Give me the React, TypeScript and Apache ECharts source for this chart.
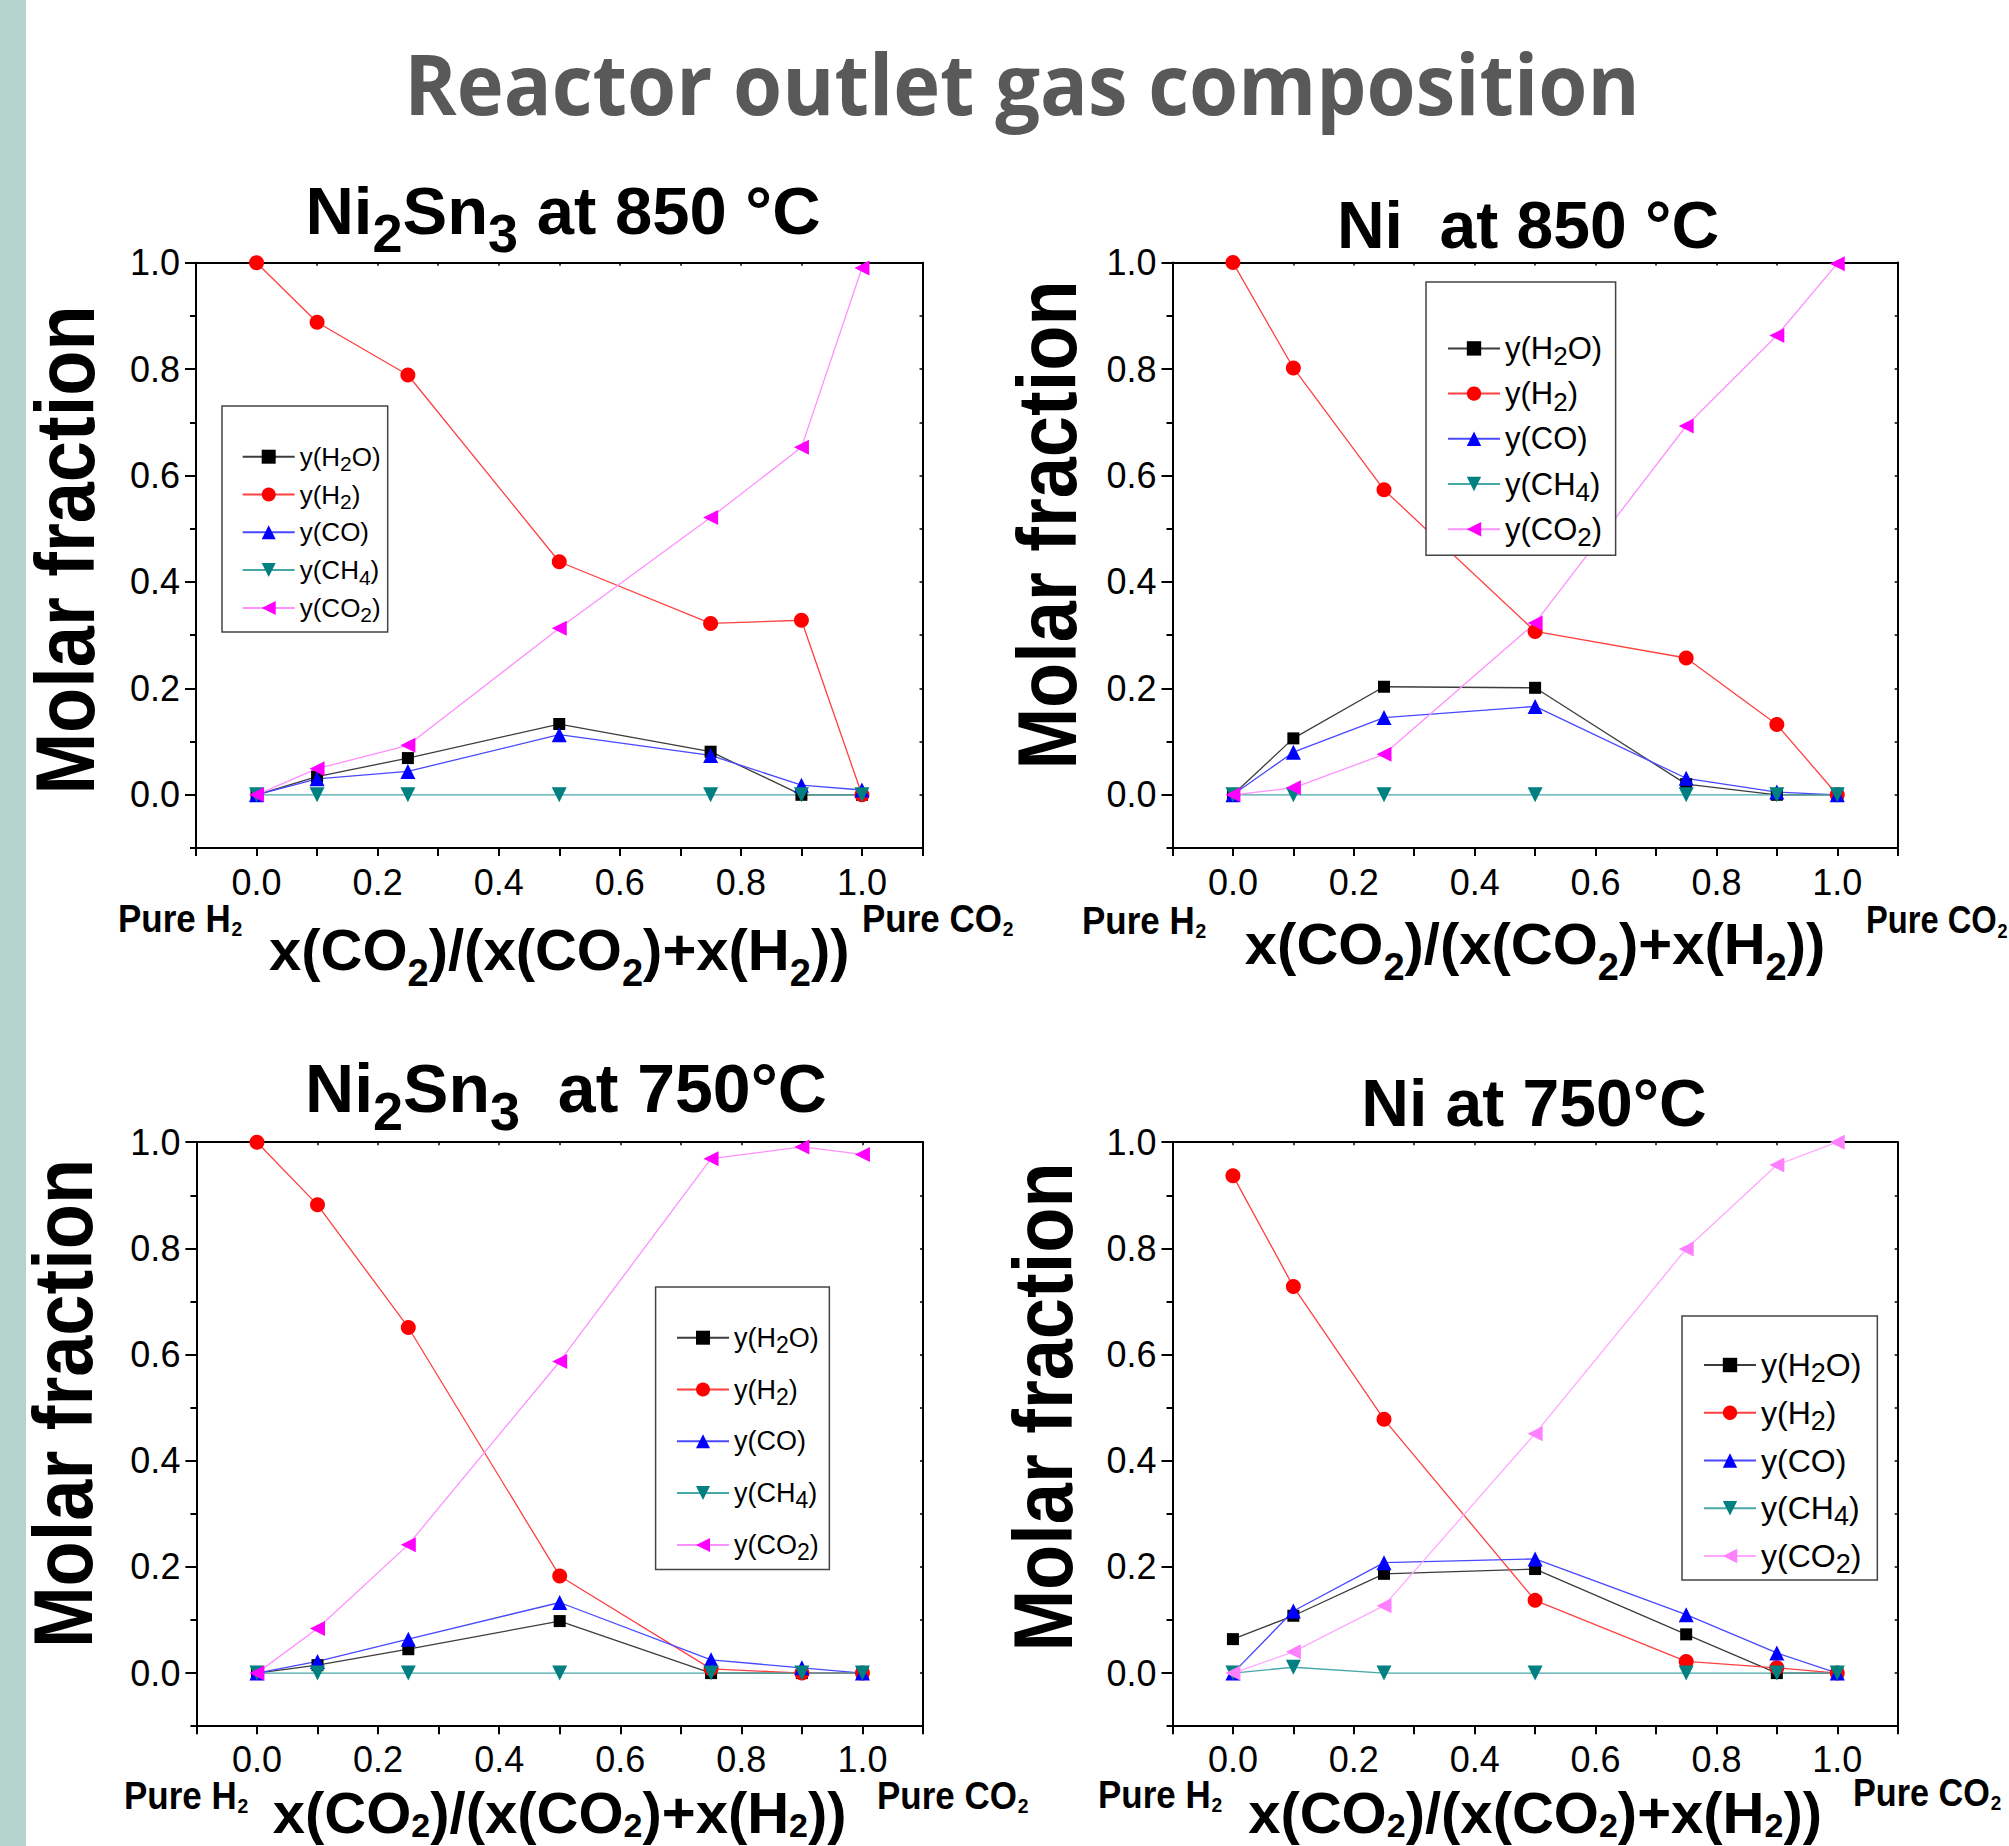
import React, { useEffect, useRef } from 'react';
import * as echarts from 'echarts';

// ---------------- DATA ----------------
const X_RATIO = [0, 0.1, 0.25, 0.5, 0.75, 0.9, 1.0];
const X_TICK_LABELS = [0, 0.2, 0.4, 0.6, 0.8, 1.0];
const Y_TICK_LABELS = [0, 0.2, 0.4, 0.6, 0.8, 1.0];

// Ni2Sn3 at 850 °C
const A_H2O = [0, 0.034, 0.069, 0.133, 0.081, 0.0, 0.0];
const A_H2 = [1.0, 0.888, 0.789, 0.438, 0.322, 0.328, 0.0];
const A_CO = [0, 0.03, 0.044, 0.113, 0.074, 0.018, 0.009];
const A_CH4 = [0, 0, 0, 0, 0, 0, 0];
const A_CO2 = [0, 0.049, 0.093, 0.313, 0.521, 0.653, 0.99];

// Ni at 850 °C
const B_H2O = [0, 0.106, 0.203, 0.201, 0.02, 0.0, 0.0];
const B_H2 = [1.0, 0.802, 0.573, 0.307, 0.257, 0.132, 0.0];
const B_CO = [0, 0.08, 0.145, 0.166, 0.031, 0.005, 0.0];
const B_CH4 = [0, 0, 0, 0, 0, 0, 0];
const B_CO2 = [0, 0.013, 0.076, 0.323, 0.693, 0.863, 0.998];

// Ni2Sn3 at 750 °C
const C_H2O = [0, 0.015, 0.045, 0.098, 0, 0, 0];
const C_H2 = [1.0, 0.882, 0.651, 0.183, 0.008, 0, 0];
const C_CO = [0, 0.022, 0.064, 0.133, 0.025, 0.01, 0];
const C_CH4 = [0, 0, 0, 0, 0, 0, 0];
const C_CO2 = [0, 0.084, 0.242, 0.587, 0.969, 0.991, 0.977];

// Ni at 750 °C
const D_H2O = [0.064, 0.108, 0.187, 0.196, 0.073, 0, 0];
const D_H2 = [0.937, 0.728, 0.478, 0.137, 0.022, 0.01, 0];
const D_CO = [0, 0.117, 0.208, 0.215, 0.11, 0.038, 0];
const D_CH4 = [0, 0.011, 0, 0, 0, 0, 0];
const D_CO2 = [0, 0.04, 0.127, 0.451, 0.799, 0.957, 1.0];

const PANEL_DATA: Record<string, Record<string, number[]>> = {
  A: { H2O: A_H2O, H2: A_H2, CO: A_CO, CH4: A_CH4, CO2: A_CO2 },
  B: { H2O: B_H2O, H2: B_H2, CO: B_CO, CH4: B_CH4, CO2: B_CO2 },
  C: { H2O: C_H2O, H2: C_H2, CO: C_CO, CH4: C_CH4, CO2: C_CO2 },
  D: { H2O: D_H2O, H2: D_H2, CO: D_CO, CH4: D_CH4, CO2: D_CO2 },
};

// ---------------- STYLES / LAYOUT ----------------
const FONT = "'Liberation Sans', Arial, Helvetica, sans-serif";
const TITLE_FONT = "'Open Sans', 'Noto Sans', sans-serif";

const SPECIES = [
  { key: 'H2O', label: 'y(H2O)', rich: 'y(H{s|2}O)', symbol: 'rect', size: 12, marker: '#000000', line: '#3c3c3c' },
  { key: 'H2', label: 'y(H2)', rich: 'y(H{s|2})', symbol: 'circle', size: 15, marker: '#ff0000', line: '#ff4040' },
  { key: 'CO', label: 'y(CO)', rich: 'y(CO)', symbol: 'triangle', size: 15, marker: '#0000ff', line: '#4848ff' },
  { key: 'CH4', label: 'y(CH4)', rich: 'y(CH{s|4})', symbol: 'path://M0,0L10,0L5,9Z', size: 15, marker: '#008080', line: '#48a8a8' },
  { key: 'CO2', label: 'y(CO2)', rich: 'y(CO{s|2})', symbol: 'path://M9,0L9,10L0,5Z', size: 15, marker: '#ff00ff', line: '#ff90ff' },
];
const RICH_BY_LABEL: Record<string, string> = {};
SPECIES.forEach((s) => (RICH_BY_LABEL[s.label] = s.rich));

// x-axis name: lh = line height, sfs = subscript size, spad = subscript drop padding
const PANELS = [
  {
    id: 'A', title: 'Ni{s|2}Sn{s|3} at 850 °C', titleSize: 67, titleX: 563, titleY: 210,
    grid: { left: 196, top: 262.7, width: 726.5, height: 585.3 },
    xName: { gap: 58.5, lh: 85, sfs: 38, spad: 47 }, xLabelMargin: 16, molar: [65.5, 550],
    pureH: [118, 919], pureC: [862, 919], pureCScale: 0.92,
    legend: { left: 222, top: 406, pad: [33.2, 7, 6.5, 19.7], gap: 2.8, fs: 26, lh: 35, sfs: 21, spad: 14, ih: 17.5 },
    override: {} as Record<string, { marker: string; line: string }>,
  },
  {
    id: 'B', title: 'Ni  at 850 °C', titleSize: 66, titleX: 1528, titleY: 224.5,
    grid: { left: 1172.5, top: 262.6, width: 725.2, height: 585.4 },
    xName: { gap: 45.5, lh: 85, sfs: 38, spad: 47 }, xLabelMargin: 16, molar: [1048, 525],
    pureH: [1082, 921], pureC: [1866, 920], pureCScale: 0.86,
    legend: { left: 1426, top: 282, pad: [45.4, 13.5, 5, 21], gap: 3.2, fs: 31, lh: 42, sfs: 26, spad: 16, ih: 18 },
    override: {} as Record<string, { marker: string; line: string }>,
  },
  {
    id: 'C', title: 'Ni{s|2}Sn{s|3}  at 750°C', titleSize: 68, titleX: 566, titleY: 1088,
    grid: { left: 196.4, top: 1142.2, width: 726.6, height: 584 },
    xName: { gap: 57.5, lh: 58, sfs: 34, spad: 24 }, xLabelMargin: 15, molar: [64, 1403.5],
    pureH: [124, 1796], pureC: [877, 1796], pureCScale: 0.92,
    legend: { left: 655.6, top: 1287, pad: [32.2, 10.6, 6, 20.4], gap: 14.8, fs: 27, lh: 37, sfs: 23, spad: 14, ih: 17.5 },
    override: {} as Record<string, { marker: string; line: string }>,
  },
  {
    id: 'D', title: 'Ni at 750°C', titleSize: 66, titleX: 1534, titleY: 1103,
    grid: { left: 1172.5, top: 1142.2, width: 725.2, height: 584 },
    xName: { gap: 57.5, lh: 58, sfs: 34, spad: 24 }, xLabelMargin: 15, molar: [1043.5, 1407],
    pureH: [1098, 1795], pureC: [1853, 1793], pureCScale: 0.9,
    legend: { left: 1682, top: 1316, pad: [27.5, 16, 2.5, 21], gap: 4.75, fs: 32, lh: 43, sfs: 27, spad: 16, ih: 18 },
    override: { CO2: { marker: '#ff80ff', line: '#ffa8ff' } } as Record<string, { marker: string; line: string }>,
  },
];

const X_AXIS_NAME = 'x(CO{s|2})/(x(CO{s|2})+x(H{s|2}))';

const seriesName = (label: string, pid: string) => `${label} · ${pid}`;
const fmt1 = (v: number) => (Math.round(v * 10) / 10).toFixed(1);

function buildOption() {
  const grid: any[] = [];
  const xAxis: any[] = [];
  const yAxis: any[] = [];
  const series: any[] = [];
  const legend: any[] = [];
  const graphic: any[] = [];

  const axisLine = { show: true, onZero: false, lineStyle: { color: '#000', width: 2 } };

  PANELS.forEach((p, g) => {
    grid.push({ ...p.grid, containLabel: false, outerBoundsMode: 'none', show: false });

    // bottom x axis (labelled)
    xAxis.push({
      type: 'value', gridIndex: g, position: 'bottom', min: -0.1, max: 1.1, interval: 0.1,
      axisLine,
      axisTick: { show: true, inside: false, length: 8, lineStyle: { color: '#000', width: 2 } },
      axisLabel: {
        show: true, customValues: X_TICK_LABELS, formatter: (v: number) => fmt1(v),
        margin: p.xLabelMargin, fontFamily: FONT, fontSize: 36, lineHeight: 36, color: '#000',
      },
      splitLine: { show: false },
      name: X_AXIS_NAME, nameLocation: 'middle', nameGap: p.xName.gap,
      nameTextStyle: {
        fontFamily: FONT, fontWeight: 'bold', fontSize: 58, lineHeight: p.xName.lh, color: '#000',
        rich: {
          s: {
            fontFamily: FONT, fontWeight: 'bold', fontSize: p.xName.sfs, lineHeight: 8,
            verticalAlign: 'top', padding: [p.xName.spad, 0, 0, 0], color: '#000',
          },
        },
      },
    });
    // top x axis (frame)
    xAxis.push({
      type: 'value', gridIndex: g, position: 'top', min: -0.1, max: 1.1, interval: 0.1,
      axisLine,
      axisTick: { show: true, inside: true, length: 3, lineStyle: { color: '#000', width: 1.5 } },
      axisLabel: { show: false }, splitLine: { show: false },
    });

    // left y axis (labelled, minor ticks)
    yAxis.push({
      type: 'value', gridIndex: g, position: 'left', min: -0.1, max: 1.0, interval: 0.1,
      axisLine,
      axisTick: { show: true, inside: false, length: 6, lineStyle: { color: '#000', width: 2 } },
      axisLabel: {
        show: true, customValues: Y_TICK_LABELS, formatter: (v: number) => fmt1(v),
        margin: 16, fontFamily: FONT, fontSize: 36, color: '#000',
      },
      splitLine: { show: false },
    });
    // left y axis major ticks
    yAxis.push({
      type: 'value', gridIndex: g, position: 'left', min: -0.1, max: 1.0, interval: 0.1,
      axisLine: { show: false, onZero: false },
      axisTick: { show: true, inside: false, length: 11, customValues: Y_TICK_LABELS, lineStyle: { color: '#000', width: 2 } },
      axisLabel: { show: false }, splitLine: { show: false },
    });
    // right y axis (frame)
    yAxis.push({
      type: 'value', gridIndex: g, position: 'right', min: -0.1, max: 1.0, interval: 0.1,
      axisLine,
      axisTick: { show: true, inside: true, length: 3, lineStyle: { color: '#000', width: 1.5 } },
      axisLabel: { show: false }, splitLine: { show: false },
    });

    const names: string[] = [];
    SPECIES.forEach((s) => {
      const ov = p.override[s.key];
      const marker = ov ? ov.marker : s.marker;
      const line = ov ? ov.line : s.line;
      const name = seriesName(s.label, p.id);
      names.push(name);
      const ys = PANEL_DATA[p.id][s.key];
      series.push({
        type: 'line', name, xAxisIndex: 2 * g, yAxisIndex: 3 * g,
        data: X_RATIO.map((x, i) => [x, ys[i]]),
        symbol: s.symbol, symbolSize: s.size, showSymbol: true,
        itemStyle: { color: marker },
        lineStyle: { color: line, width: 1.3 },
        emphasis: { disabled: true },
        clip: false,
      });
    });

    const L = p.legend;
    legend.push({
      show: true, orient: 'vertical', left: L.left, top: L.top, padding: L.pad, itemGap: L.gap,
      itemWidth: 52, itemHeight: L.ih, selectedMode: false,
      backgroundColor: '#ffffff', borderColor: '#444444', borderWidth: 1.5, borderRadius: 0,
      data: names,
      formatter: (name: string) => RICH_BY_LABEL[name.split(' · ')[0]] || name,
      textStyle: {
        fontFamily: FONT, fontSize: L.fs, lineHeight: L.lh, color: '#000',
        rich: {
          s: {
            fontFamily: FONT, fontSize: L.sfs, lineHeight: 8, verticalAlign: 'top',
            padding: [L.spad, 0, 0, 0], color: '#000',
          },
        },
      },
    });

    // panel title (subscripts dropped ~23px below the main glyph centre)
    const tsub = Math.round(p.titleSize * 0.8);
    graphic.push({
      type: 'text', x: p.titleX, y: p.titleY, z: 10,
      style: {
        text: p.title, fontFamily: FONT, fontWeight: 'bold', fontSize: p.titleSize, lineHeight: tsub + 46,
        fill: '#000', align: 'center', verticalAlign: 'middle',
        rich: {
          s: {
            fontFamily: FONT, fontWeight: 'bold', fontSize: tsub, lineHeight: 8, verticalAlign: 'top',
            padding: [46, 0, 0, 0], fill: '#000',
          },
        },
      },
    });
    // y axis title
    graphic.push({
      type: 'text', x: p.molar[0], y: p.molar[1], rotation: Math.PI / 2, scaleX: 1, scaleY: 1.12, z: 10,
      style: {
        text: 'Molar fraction', fontFamily: FONT, fontWeight: 'bold', fontSize: 74,
        fill: '#000', align: 'center', verticalAlign: 'middle',
      },
    });
    // end labels
    const pureStyle = (text: string) => ({
      text, fontFamily: FONT, fontWeight: 'bold', fontSize: 38, lineHeight: 41, fill: '#000',
      align: 'left', verticalAlign: 'middle',
      rich: {
        s: {
          fontFamily: FONT, fontWeight: 'bold', fontSize: 21, lineHeight: 8, verticalAlign: 'top',
          padding: [20, 0, 0, 1], fill: '#000',
        },
      },
    });
    graphic.push({ type: 'text', x: p.pureH[0], y: p.pureH[1], scaleX: 0.92, z: 10, style: pureStyle('Pure H{s|2}') });
    graphic.push({ type: 'text', x: p.pureC[0], y: p.pureC[1], scaleX: p.pureCScale, z: 10, style: pureStyle('Pure CO{s|2}') });
  });

  // left band and main title
  graphic.unshift({ type: 'rect', shape: { x: 0, y: 0, width: 26, height: 1846 }, style: { fill: '#b3d3cc' }, z: 0 });
  graphic.push({
    type: 'text', x: 1022, y: 83, scaleX: 0.946, z: 10,
    style: {
      text: 'Reactor outlet gas composition', fontFamily: TITLE_FONT, fontWeight: 'bold', fontSize: 84,
      fill: '#595959', align: 'center', verticalAlign: 'middle',
    },
  });

  return {
    animation: false,
    backgroundColor: '#ffffff',
    grid, xAxis, yAxis, series, legend, graphic,
  };
}

export default function App() {
  const ref = useRef<HTMLDivElement>(null);
  useEffect(() => {
    const chart = echarts.init(ref.current as HTMLDivElement, null, { renderer: 'svg', width: 2009, height: 1846 });
    chart.setOption(buildOption() as any);
    return () => chart.dispose();
  }, []);
  return (
    <div
      ref={ref}
      style={{ position: 'fixed', left: 0, top: 0, width: 2009, height: 1846, background: '#fff' }}
    />
  );
}
